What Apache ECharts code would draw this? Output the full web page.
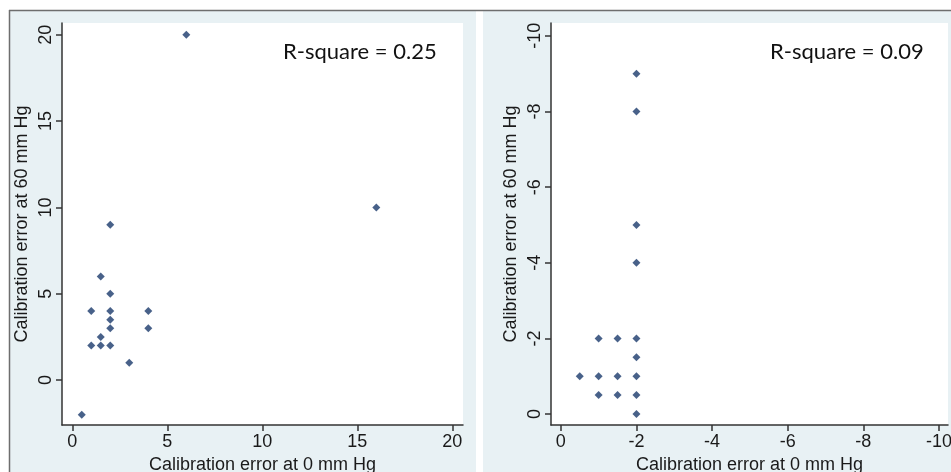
<!DOCTYPE html>
<html>
<head>
<meta charset="utf-8">
<script src="https://cdn.jsdelivr.net/npm/echarts@6/dist/echarts.min.js"></script>
<style>
  html, body { margin: 0; padding: 0; background: #fff; }
  #chart { width: 951px; height: 472px; }
</style>
</head>
<body>
<div id="chart"></div>
<script>
// calibration error at 0 mm Hg vs at 60 mm Hg, positive errors
const posAt0 = [6, 16, 2, 1.5, 2, 1, 2, 4, 2, 2, 4, 1.5, 1, 1.5, 2, 3, 0.5];
const posAt60 = [20, 10, 9, 6, 5, 4, 4, 4, 3.5, 3, 3, 2.5, 2, 2, 2, 1, -2];
// negative errors
const negAt0 = [-2, -2, -2, -2, -1, -1.5, -2, -2, -0.5, -1, -1.5, -2, -1, -1.5, -2, -2];
const negAt60 = [-9, -8, -5, -4, -2, -2, -2, -1.5, -1, -1, -1, -1, -0.5, -0.5, -0.5, 0];

const posTicksX = [0, 5, 10, 15, 20];
const posTicksY = [0, 5, 10, 15, 20];
const negTicksX = [0, -2, -4, -6, -8, -10];
const negTicksY = [0, -2, -4, -6, -8, -10];

const rSquare = ['R-square = 0.25', 'R-square = 0.09'];
const xName = 'Calibration error at 0 mm Hg';
const yName = 'Calibration error at 60 mm Hg';

const panelBg = '#e8f1f4';
const markColor = '#1a3a6b';
const axisColor = '#333';
const font = '"Liberation Sans", Arial, sans-serif';

function pairs(xs, ys) {
  return xs.map((x, i) => [x, ys[i]]);
}

function xAxisOf(idx, ticks, min, max, inverse) {
  return {
    type: 'value', gridIndex: idx, min: min, max: max, inverse: inverse,
    name: xName, nameLocation: 'middle', nameGap: 24,
    nameTextStyle: { fontFamily: font, fontSize: 18, color: '#1a1a1a' },
    axisLine: { onZero: false, lineStyle: { color: axisColor, width: 1.5 } },
    axisTick: { customValues: ticks, length: 6, lineStyle: { color: axisColor, width: 1.5 } },
    axisLabel: { customValues: ticks, margin: 8, fontFamily: font, fontSize: 18, color: '#1a1a1a' },
    splitLine: { show: false },
  };
}

function yAxisOf(idx, ticks, min, max, inverse) {
  return {
    type: 'value', gridIndex: idx, min: min, max: max, inverse: inverse,
    name: yName, nameLocation: 'middle', nameGap: 31,
    nameTextStyle: { fontFamily: font, fontSize: 18, color: '#1a1a1a' },
    axisLine: { onZero: false, lineStyle: { color: axisColor, width: 1.5 } },
    axisTick: { customValues: ticks, length: 6, lineStyle: { color: axisColor, width: 1.5 } },
    axisLabel: { customValues: ticks, rotate: 90, margin: 7, fontFamily: font, fontSize: 18, color: '#1a1a1a' },
    splitLine: { show: false },
  };
}

const rStyle = { fontFamily: 'Lato, "Open Sans", sans-serif', fontSize: 22, fontWeight: 'normal', color: '#111' };

const chart = echarts.init(document.getElementById('chart'));
chart.setOption({
  animation: false,
  backgroundColor: '#fff',
  graphic: [
    { type: 'rect', z: -10, shape: { x: 9, y: 10, width: 467, height: 462 }, style: { fill: panelBg } },
    { type: 'rect', z: -10, shape: { x: 483, y: 10, width: 468, height: 462 }, style: { fill: panelBg } },
    { type: 'line', z: -5, shape: { x1: 9, y1: 10.5, x2: 951, y2: 10.5 }, style: { stroke: '#6e6e6e', lineWidth: 1.5 } },
    { type: 'line', z: -5, shape: { x1: 9.5, y1: 10, x2: 9.5, y2: 472 }, style: { stroke: '#6e6e6e', lineWidth: 1.5 } },
  ],
  title: [
    { text: rSquare[0], left: 283, top: 41, padding: 0, textStyle: rStyle },
    { text: rSquare[1], left: 770, top: 41, padding: 0, textStyle: rStyle },
  ],
  grid: [
    { left: 62, top: 23, right: 488, bottom: 47, outerBoundsMode: 'none', containLabel: false,
      show: true, backgroundColor: '#fff', borderWidth: 0 },
    { left: 551, top: 23, right: 3, bottom: 47, outerBoundsMode: 'none', containLabel: false,
      show: true, backgroundColor: '#fff', borderWidth: 0 },
  ],
  xAxis: [
    xAxisOf(0, posTicksX, -0.54, 20.56, false),
    xAxisOf(1, negTicksX, -10.24, 0.26, true),
  ],
  yAxis: [
    yAxisOf(0, posTicksY, -2.6, 20.68, false),
    yAxisOf(1, negTicksY, -10.34, 0.29, true),
  ],
  series: [
    { type: 'scatter', xAxisIndex: 0, yAxisIndex: 0, symbol: 'diamond', symbolSize: 8,
      itemStyle: { color: markColor }, data: pairs(posAt0, posAt60) },
    { type: 'scatter', xAxisIndex: 1, yAxisIndex: 1, symbol: 'diamond', symbolSize: 8,
      itemStyle: { color: markColor }, data: pairs(negAt0, negAt60) },
  ],
});
</script>
</body>
</html>
